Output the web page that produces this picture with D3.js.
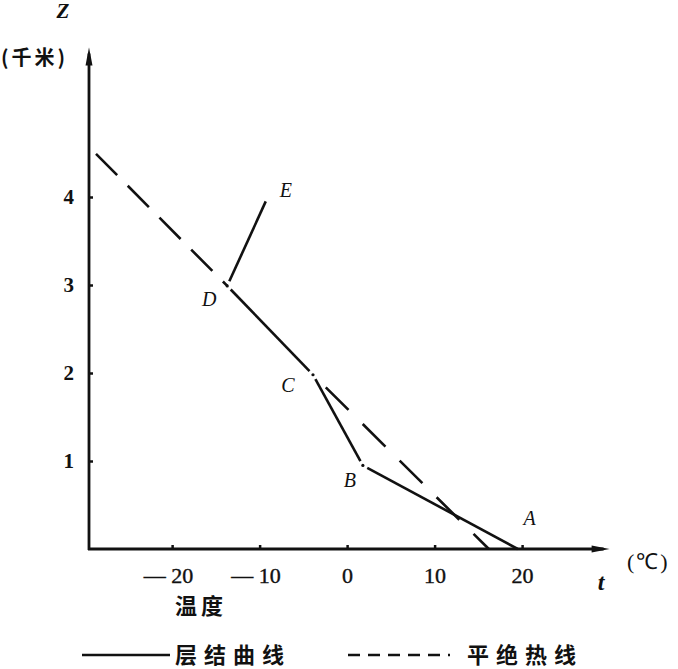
<!DOCTYPE html>
<html><head><meta charset="utf-8">
<script src="https://cdn.jsdelivr.net/npm/d3@7/dist/d3.min.js"></script>
<style>
html,body{margin:0;padding:0;background:#fff;}
svg{display:block;}
</style></head>
<body>
<svg id="chart" width="678" height="669"></svg>
<script>
// ---- data ----
const xTicks = [-20, -10, 0, 10, 20];
const xTickLabels = ["— 20", "— 10", "0", "10", "20"];
const yTicks = [1, 2, 3, 4];
const yTickLabels = ["1", "2", "3", "4"];
const stratLabels = ["A", "B", "C", "D", "E"];
const stratT = [19.5, 1.8, -3.9, -13.7, -9.3];
const stratZ = [0, 0.95, 1.98, 2.99, 3.95];
const adiabatUpperT = [-28.7, -13.7];
const adiabatUpperZ = [4.49, 2.99];
const adiabatLowerT = [-3.9, 16.2];
const adiabatLowerZ = [1.98, 0];
const legendLabels = ["层结曲线", "平绝热线"];

// ---- scales ----
const svg = d3.select("#chart");
const x = d3.scaleLinear().domain([-29.5, 30]).range([89, 609.6]);
const y = d3.scaleLinear().domain([0, 5.7]).range([549, 47.4]);
const ink = "#111";
const serif = "'Liberation Serif', serif";
const cjk = "'Noto Sans CJK SC', sans-serif";

// ---- axes ----
const xAxis = d3.axisBottom(x).tickValues(xTicks).tickFormat((d,i)=>xTickLabels[i])
  .tickSizeInner(-4).tickSizeOuter(0).tickPadding(18);
const gx = svg.append("g").attr("transform", `translate(0,${y(0)})`).call(xAxis);
gx.select(".domain").remove();
gx.selectAll(".tick line").attr("stroke", ink).attr("stroke-width", 2.5);
gx.selectAll(".tick text").attr("font-family", serif)
  .attr("font-size", 22).attr("fill", ink).attr("stroke", ink).attr("stroke-width", 0.4)
  .attr("dx", (d)=> d < 0 ? -4 : 0);

const yAxis = d3.axisLeft(y).tickValues(yTicks).tickFormat((d,i)=>yTickLabels[i])
  .tickSizeInner(-4).tickSizeOuter(0).tickPadding(15);
const gy = svg.append("g").attr("transform", `translate(${x(-29.5)},0)`).call(yAxis);
gy.select(".domain").remove();
gy.selectAll(".tick line").attr("stroke", ink).attr("stroke-width", 2.5);
gy.selectAll(".tick text").attr("font-family", serif)
  .attr("font-size", 21).attr("font-weight", "bold").attr("fill", ink);

// axis lines with arrowheads
const x0 = x(-29.5), y0 = y(0);
const xEnd = x(30), yEnd = y(5.7);
svg.append("line").attr("x1", x0 - 1).attr("y1", y0).attr("x2", xEnd - 6).attr("y2", y0)
  .attr("stroke", ink).attr("stroke-width", 2.8);
svg.append("line").attr("x1", x0).attr("y1", y0 + 1).attr("x2", x0).attr("y2", yEnd + 6)
  .attr("stroke", ink).attr("stroke-width", 2.8);
svg.append("path").attr("d", `M${xEnd},${y0} L${xEnd-18},${y0-3.5} L${xEnd-18},${y0+3.5} Z`).attr("fill", ink);
svg.append("path").attr("d", `M${x0},${yEnd} L${x0-3.5},${yEnd+18} L${x0+3.5},${yEnd+18} Z`).attr("fill", ink);

// axis titles
svg.append("text").attr("x", 63).attr("y", 18).attr("text-anchor", "middle")
  .attr("font-family", serif).attr("font-style", "italic").attr("font-weight", "bold")
  .attr("font-size", 21).attr("fill", ink).text("Z");
svg.append("text").attr("x", 1).attr("y", 65)
  .attr("font-family", cjk).attr("font-weight", "bold").attr("font-size", 20)
  .attr("fill", ink).text("(千米)").attr("letter-spacing", 3);
svg.append("text").attr("x", 601).attr("y", 590).attr("text-anchor", "middle")
  .attr("font-family", serif).attr("font-style", "italic").attr("font-weight", "bold")
  .attr("font-size", 24).attr("fill", ink).text("t");
svg.append("text").attr("x", 627).attr("y", 569)
  .attr("font-family", serif).attr("font-size", 22).attr("fill", ink).text("(℃)")
  .attr("letter-spacing", 2);
svg.append("text").attr("x", 201).attr("y", 614).attr("text-anchor", "middle")
  .attr("font-family", cjk).attr("font-weight", "bold").attr("font-size", 22)
  .attr("letter-spacing", 4).attr("fill", ink).text("温度");

// ---- stratification curve (solid, with small breaks and dots at vertices) ----
const pts = stratT.map((t,i)=>({label: stratLabels[i], px: x(t), py: y(stratZ[i])}));
const gap = 5;
function shorten(a, b, ga, gb){
  const dx = b.px - a.px, dy = b.py - a.py, L = Math.hypot(dx, dy);
  return [a.px + dx*ga/L, a.py + dy*ga/L, b.px - dx*gb/L, b.py - dy*gb/L];
}
for (let i = 0; i < pts.length - 1; i++){
  const s = shorten(pts[i], pts[i+1], i === 0 ? 0 : gap, i+1 === pts.length-1 ? 0 : gap);
  svg.append("line").attr("x1", s[0]).attr("y1", s[1]).attr("x2", s[2]).attr("y2", s[3])
    .attr("stroke", ink).attr("stroke-width", 2.6);
}
svg.selectAll("circle.v").data(pts.slice(1, 4)).enter().append("circle")
  .attr("cx", d=>d.px).attr("cy", d=>d.py).attr("r", 1.6).attr("fill", ink);

// ---- dry adiabats (dashed) ----
const line = d3.line().x(d=>x(d[0])).y(d=>y(d[1]));
svg.append("path").attr("d", line(adiabatUpperT.map((t,i)=>[t, adiabatUpperZ[i]])))
  .attr("fill", "none").attr("stroke", ink).attr("stroke-width", 2.6)
  .attr("stroke-dasharray", "30,15");
svg.append("path").attr("d", line(adiabatLowerT.map((t,i)=>[t, adiabatLowerZ[i]])))
  .attr("fill", "none").attr("stroke", ink).attr("stroke-width", 2.6)
  .attr("stroke-dasharray", "32,20").attr("stroke-dashoffset", 34);

// point labels
const labelOffsets = {A:[12,-24], B:[-13,22], C:[-25,17], D:[-18,20], E:[20,-4]};
svg.selectAll("text.pl").data(pts).enter().append("text")
  .attr("x", d=>d.px + labelOffsets[d.label][0]).attr("y", d=>d.py + labelOffsets[d.label][1])
  .attr("text-anchor", "middle").attr("font-family", serif).attr("font-style", "italic")
  .attr("font-size", 20).attr("fill", ink).text(d=>d.label);

// ---- legend ----
svg.append("line").attr("x1", 82).attr("y1", 655).attr("x2", 170).attr("y2", 655)
  .attr("stroke", ink).attr("stroke-width", 2.6);
svg.append("text").attr("x", 175).attr("y", 663).attr("font-family", cjk).attr("font-weight", "bold")
  .attr("font-size", 22).attr("letter-spacing", 7).attr("fill", ink).text(legendLabels[0]);
svg.append("line").attr("x1", 348).attr("y1", 655).attr("x2", 450).attr("y2", 655)
  .attr("stroke", ink).attr("stroke-width", 2.6).attr("stroke-dasharray", "12,8");
svg.append("text").attr("x", 467).attr("y", 663).attr("font-family", cjk).attr("font-weight", "bold")
  .attr("font-size", 22).attr("letter-spacing", 7).attr("fill", ink).text(legendLabels[1]);
</script>
</body></html>
